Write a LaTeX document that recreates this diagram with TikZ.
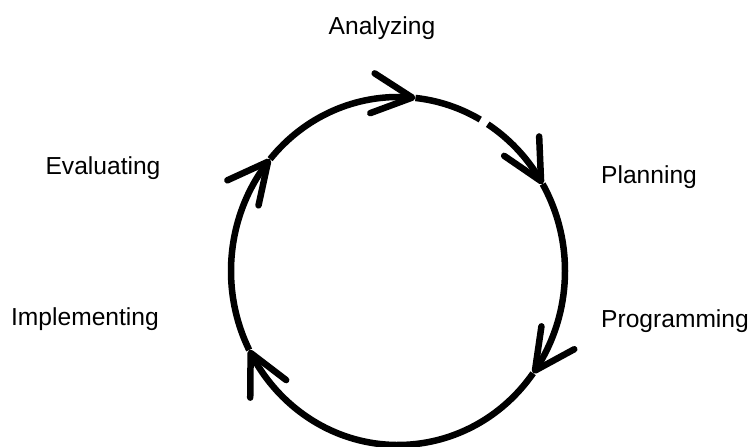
\documentclass[tikz,border=0pt]{standalone}
\usepackage{fontspec}
\setmainfont{Liberation Sans}
\usetikzlibrary{arrows.meta, bending, calc}

\begin{document}
\begin{tikzpicture}
    \useasboundingbox (0, 0) rectangle (15.04, 8.92);

    \begin{scope}[every node/.style={font=\fontsize{14}{17}\selectfont}]
        \node (analyzing) at (7.64, 8.36) {Analyzing};
        \node (planning) at (12.98, 5.38) {Planning};
        \node (programming) at (13.50, 2.50) {Programming};
        \node (implementing) at (1.70, 2.54) {Implementing};
        \node (evaluating) at (2.06, 5.56) {Evaluating};
    \end{scope}

    \coordinate (c) at (7.96, 3.50);
    \coordinate (p_ev) at ($(c) + (140:3.34 and 3.48)$);
    \coordinate (p_an) at ($(c) + (84:3.34 and 3.48)$);
    \coordinate (p_gap) at ($(c) + (57.5:3.34 and 3.48)$);
    \coordinate (p_pl) at ($(c) + (30:3.34 and 3.48)$);
    \coordinate (p_pr) at ($(c) + (-36:3.34 and 3.48)$);
    \coordinate (p_im) at ($(c) + (-153:3.34 and 3.48)$);

    \begin{scope}[line width=0.13cm, x radius=3.34, y radius=3.48,
                  >={Straight Barb[length=0.8cm, width=0.8cm, round, flex]}]
        \draw[->] (p_ev) arc[start angle=140, end angle=84];
        \draw (p_an) arc[start angle=84, end angle=60.5];
        \draw[->] (p_gap) arc[start angle=57.5, end angle=30];
        \draw[->] (p_pl) arc[start angle=30, end angle=-36];
        \draw[->] (p_pr) arc[start angle=-36, end angle=-153];
        \draw[->] (p_im) arc[start angle=-153, end angle=-220];
    \end{scope}
\end{tikzpicture}
\end{document}
